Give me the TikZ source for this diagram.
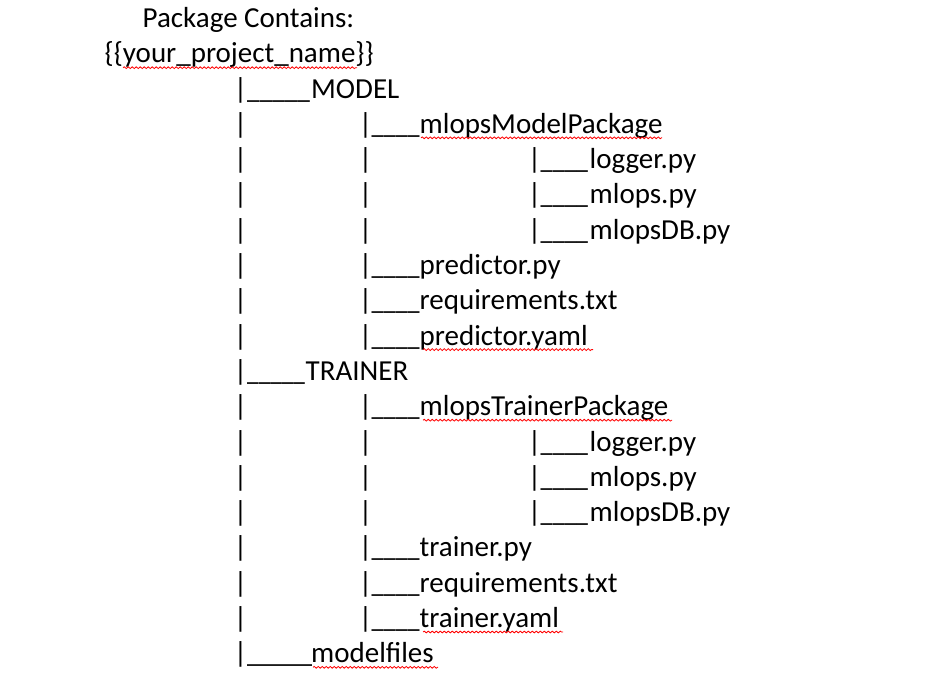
\documentclass[tikz,border=0pt]{standalone}
\usepackage{fontspec}
\usepackage{graphicx}
\setmainfont{Carlito}
\usetikzlibrary{decorations.pathmorphing}
\begin{document}
\begin{tikzpicture}[x=1pt,y=-1pt,
  txt/.style={anchor=base west, inner sep=0pt, font=\fontsize{29}{35}\selectfont, text=black},
  bar/.style={anchor=base, inner sep=0pt, font=\fontsize{29}{35}\selectfont, text=black},
  spell/.style={draw=red, line width=0.8pt, decorate, decoration={snake, segment length=4pt, amplitude=0.9pt}}]
\useasboundingbox (0,0) rectangle (948,699);
\fill[white] (0,0) rectangle (948,699);
% baselines: 27.4 + 35.3*row
\def\yrow#1{\fpeval{27.4+35.3*#1}}
\def\usc#1#2{\scalebox{#1}[1]{#2}}
% titles
\node[txt] (title) at (142.5,{\yrow{0}}) {Package Contains:};
\node[txt] (root) at (104.5,{\yrow{1}}) {\{\{your\_project\_name\}\}};
\draw[spell] (123,{\yrow{1}+5}) -- (357,{\yrow{1}+5});
% column-1 pipes (rows 2..18)
\foreach \r in {2,...,18} {\node[bar] (p1-\r) at (240.5,{\yrow{\r}}) {|};}
% column-2 pipes (rows 3..9, 11..17)
\foreach \r in {3,...,9,11,12,...,17} {\node[bar] (p2-\r) at (365.5,{\yrow{\r}}) {|};}
% column-3 pipes and underscores (rows 4..6, 12..14)
\foreach \r in {4,5,6,12,13,14} {\node[bar] (p3-\r) at (534.5,{\yrow{\r}}) {|};
  \node[txt] (u3-\r) at (540.5,{\yrow{\r}}) {\usc{0.82}{\_\_\_\_}};}
% column-2 underscores
\foreach \r in {3,7,8,9,11,15,16,17} {\node[txt] (u2-\r) at (371.5,{\yrow{\r}}) {\usc{0.83}{\_\_\_\_}};}
% column-1 underscores
\node[txt] (u1-2) at (247,{\yrow{2}}) {\usc{0.87}{\_\_\_\_\_}};
\node[txt] (u1-10) at (247,{\yrow{10}}) {\usc{0.8}{\_\_\_\_\_}};
\node[txt] (u1-18) at (247,{\yrow{18}}) {\usc{0.9}{\_\_\_\_\_}};
% names
\node[txt] (model) at (311,{\yrow{2}}) {MODEL};
\node[txt] (mmp) at (419.5,{\yrow{3}}) {mlopsModelPackage};
\node[txt] (mlog) at (589.5,{\yrow{4}}) {logger.py};
\node[txt] (mml) at (589.5,{\yrow{5}}) {mlops.py};
\node[txt] (mdb) at (589.5,{\yrow{6}}) {mlopsDB.py};
\node[txt] (pred) at (419.5,{\yrow{7}}) {predictor.py};
\node[txt] (mreq) at (419.5,{\yrow{8}}) {requirements.txt};
\node[txt] (pyaml) at (419.5,{\yrow{9}}) {predictor.yaml};
\node[txt] (trainer) at (305.5,{\yrow{10}}) {TRAINER};
\node[txt] (mtp) at (419.5,{\yrow{11}}) {mlopsTrainerPackage};
\node[txt] (tlog) at (589.5,{\yrow{12}}) {logger.py};
\node[txt] (tml) at (589.5,{\yrow{13}}) {mlops.py};
\node[txt] (tdb) at (589.5,{\yrow{14}}) {mlopsDB.py};
\node[txt] (tpy) at (419.5,{\yrow{15}}) {trainer.py};
\node[txt] (treq) at (419.5,{\yrow{16}}) {requirements.txt};
\node[txt] (tyaml) at (419.5,{\yrow{17}}) {trainer.yaml};
\node[txt] (mfiles) at (311,{\yrow{18}}) {modelfiles};
% spelling squiggles
\draw[spell] (421,{\yrow{3}+4.5}) -- (662,{\yrow{3}+4.5});
\draw[spell] (423,{\yrow{9}+4.5}) -- (593,{\yrow{9}+4.5});
\draw[spell] (423,{\yrow{11}+4.5}) -- (672,{\yrow{11}+4.5});
\draw[spell] (423,{\yrow{17}+4.5}) -- (563,{\yrow{17}+4.5});
\draw[spell] (313,{\yrow{18}+4.5}) -- (438,{\yrow{18}+4.5});
\end{tikzpicture}
\end{document}
